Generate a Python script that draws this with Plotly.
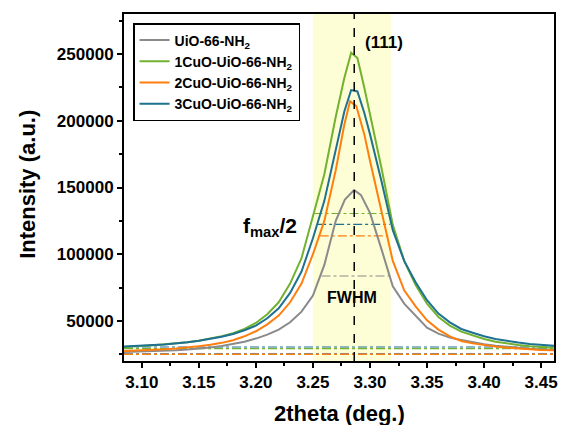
import plotly.graph_objects as go

# ---- series data: (111) reflection of the UiO-66-NH2 samples ----
theta_uio = [3.07, 3.08, 3.09, 3.10, 3.11, 3.12, 3.13, 3.14, 3.15, 3.16, 3.17, 3.18, 3.19,
             3.20, 3.21, 3.22, 3.23, 3.24, 3.25, 3.26, 3.27, 3.278, 3.2861, 3.292, 3.30,
             3.31, 3.32, 3.33, 3.34, 3.35, 3.36, 3.37, 3.38, 3.39, 3.40, 3.41, 3.42, 3.43,
             3.44, 3.45, 3.46, 3.47]
int_uio = [26300, 26500, 26800, 27000, 27300, 27600, 28000, 28600, 29300, 30200, 31300,
           32700, 34500, 36800, 39800, 43500, 49000, 57000, 69000, 92000, 125000, 141000,
           148000, 144500, 131000, 104000, 76000, 63000, 54000, 45000, 40500, 37500, 35800,
           34000, 32500, 31400, 30500, 29800, 29200, 28700, 28200, 27900]

theta_cu = [3.07, 3.08, 3.09, 3.10, 3.11, 3.12, 3.13, 3.14, 3.15, 3.16, 3.17, 3.18, 3.19,
            3.20, 3.21, 3.22, 3.23, 3.24, 3.25, 3.26, 3.27, 3.2775, 3.2835, 3.289, 3.295,
            3.30, 3.31, 3.32, 3.33, 3.34, 3.35, 3.36, 3.37, 3.38, 3.39, 3.40, 3.41, 3.42,
            3.43, 3.44, 3.45, 3.46, 3.47]
int_1cu = [30000, 30300, 30700, 31200, 31800, 32400, 33000, 34000, 35200, 36800, 38500,
           40800, 44000, 48500, 55000, 64000, 78000, 97000, 128000, 160000, 203000, 232000,
           251000, 247000, 225000, 205000, 165000, 122000, 95000, 77000, 63000, 53000,
           46500, 42000, 39000, 36500, 34500, 33000, 32000, 31000, 30300, 29800, 29400]
int_3cu = [30200, 30500, 30900, 31400, 31900, 32400, 33000, 34000, 35200, 36600, 38200,
           40200, 43000, 46500, 52000, 59500, 71000, 87000, 112000, 140000, 178000, 207000,
           223000, 222000, 206000, 190000, 155000, 118000, 95000, 79000, 65500, 55500,
           49000, 44000, 41200, 38500, 36500, 35000, 33800, 32800, 32000, 31300, 30800]

theta_2cu = [3.07, 3.08, 3.09, 3.10, 3.11, 3.12, 3.13, 3.14, 3.15, 3.16, 3.17, 3.18, 3.19,
             3.20, 3.21, 3.22, 3.23, 3.24, 3.25, 3.26, 3.27, 3.2775, 3.2825, 3.288, 3.295,
             3.30, 3.31, 3.32, 3.33, 3.34, 3.35, 3.36, 3.37, 3.38, 3.39, 3.40, 3.41, 3.42,
             3.43, 3.44, 3.45, 3.46, 3.47]
int_2cu = [27000, 27300, 27600, 28000, 28400, 28800, 29400, 30100, 31000, 32200, 33600,
           35600, 38500, 42300, 47500, 54000, 64000, 78000, 100000, 125000, 163000, 197000,
           214700, 211000, 190000, 170000, 132000, 95000, 73000, 61000, 50500, 43500,
           38500, 35000, 33200, 31800, 30800, 30000, 29300, 28800, 28300, 28000, 27700]

names = ["UiO-66-NH<sub>2</sub>", "1CuO-UiO-66-NH<sub>2</sub>",
         "2CuO-UiO-66-NH<sub>2</sub>", "3CuO-UiO-66-NH<sub>2</sub>"]
colors = ["#8a8a8a", "#72b230", "#ff7f0e", "#1e7190"]
thetas = [theta_uio, theta_cu, theta_2cu, theta_cu]
intens = [int_uio, int_1cu, int_2cu, int_3cu]

# background level and half-maximum level of each sample
baseline = [25600, 29300, 25000, 30500]
half_max = [83700, 130500, 113700, 122300]
half_left = [3.2575, 3.2505, 3.256, 3.2537]
half_right = [3.3175, 3.3175, 3.316, 3.3175]

x_range = [3.0844, 3.4613]
y_range = [20000, 280000]
band = [3.25, 3.3185]      # shaded FWHM window
peak_pos = 3.2862          # (111) peak centre

x_ticks = [3.10, 3.15, 3.20, 3.25, 3.30, 3.35, 3.40, 3.45]
x_ticktext = ["3.10", "3.15", "3.20", "3.25", "3.30", "3.35", "3.40", "3.45"]
y_ticks = [50000, 100000, 150000, 200000, 250000]
y_ticktext = ["50000", "100000", "150000", "200000", "250000"]

FONT = "Liberation Sans, Arial, sans-serif"

fig = go.Figure()

# reference lines: baselines across the whole window, half-max segments
for c, b in zip(colors, baseline):
    fig.add_trace(go.Scatter(x=x_range, y=[b, b], mode="lines", showlegend=False,
                             hoverinfo="skip",
                             line=dict(color=c, width=1.2, dash="dashdot")))
for c, h, xl, xr in zip(colors, half_max, half_left, half_right):
    fig.add_trace(go.Scatter(x=[xl, xr], y=[h, h], mode="lines", showlegend=False,
                             hoverinfo="skip",
                             line=dict(color=c, width=1.2, dash="dashdot")))

for n, c, tx, iy in zip(names, colors, thetas, intens):
    fig.add_trace(go.Scatter(x=tx, y=iy, mode="lines", name=n,
                             line=dict(color=c, width=2)))

fig.add_shape(type="rect", xref="x", yref="paper", x0=band[0], x1=band[1], y0=0, y1=1,
              fillcolor="#fdfdd6", line=dict(width=0), layer="below")
fig.add_shape(type="line", xref="x", yref="paper", x0=peak_pos, x1=peak_pos, y0=0, y1=1,
              line=dict(color="black", width=1.5, dash="dash"))

fig.add_annotation(x=3.312, y=258300, text="(111)", showarrow=False,
                   font=dict(size=17, color="black", family=FONT, weight="bold"))
fig.add_annotation(x=3.2125, y=120300, text="f<sub>max</sub>/2", showarrow=False,
                   font=dict(size=21, color="black", family=FONT, weight="bold"))
fig.add_annotation(x=3.2843, y=67500, text="FWHM", showarrow=False,
                   font=dict(size=16, color="black", family=FONT, weight="bold"))

# axis titles
fig.add_annotation(xref="paper", yref="paper", x=0.5, y=-0.152, yanchor="middle",
                   text="2theta (deg.)", showarrow=False,
                   font=dict(size=22, color="black", family=FONT, weight="bold"))
fig.add_annotation(xref="paper", yref="paper", x=-0.226, y=0.51, xanchor="center",
                   text="Intensity (a.u.)", textangle=-90, showarrow=False,
                   font=dict(size=22, color="black", family=FONT, weight="bold"))

axis_common = dict(showline=True, linecolor="black", linewidth=2, mirror=True,
                   ticks="outside", ticklen=5, tickwidth=1.5, tickcolor="black",
                   showgrid=False, zeroline=False,
                   tickfont=dict(size=17, color="black", family=FONT, weight="bold"))

fig.update_xaxes(range=x_range, tickvals=x_ticks, ticktext=x_ticktext,
                 minor=dict(ticks="outside", ticklen=3, tickwidth=1.5, tickcolor="black",
                            dtick=0.025, tick0=3.1), **axis_common)
fig.update_yaxes(range=y_range, tickvals=y_ticks, ticktext=y_ticktext,
                 minor=dict(ticks="outside", ticklen=3, tickwidth=1.5, tickcolor="black",
                            dtick=25000, tick0=0), **axis_common)

fig.update_layout(
    width=564, height=425,
    margin=dict(l=124, r=6, t=14, b=64),
    paper_bgcolor="white", plot_bgcolor="white",
    font=dict(family=FONT, color="black"),
    legend=dict(x=0.021, y=0.974, xanchor="left", yanchor="top",
                bgcolor="white", bordercolor="black", borderwidth=1.5,
                font=dict(size=14, color="black", family=FONT, weight="bold"),
                tracegroupgap=0, itemwidth=30),
    showlegend=True,
)

fig.write_html("out.html")
